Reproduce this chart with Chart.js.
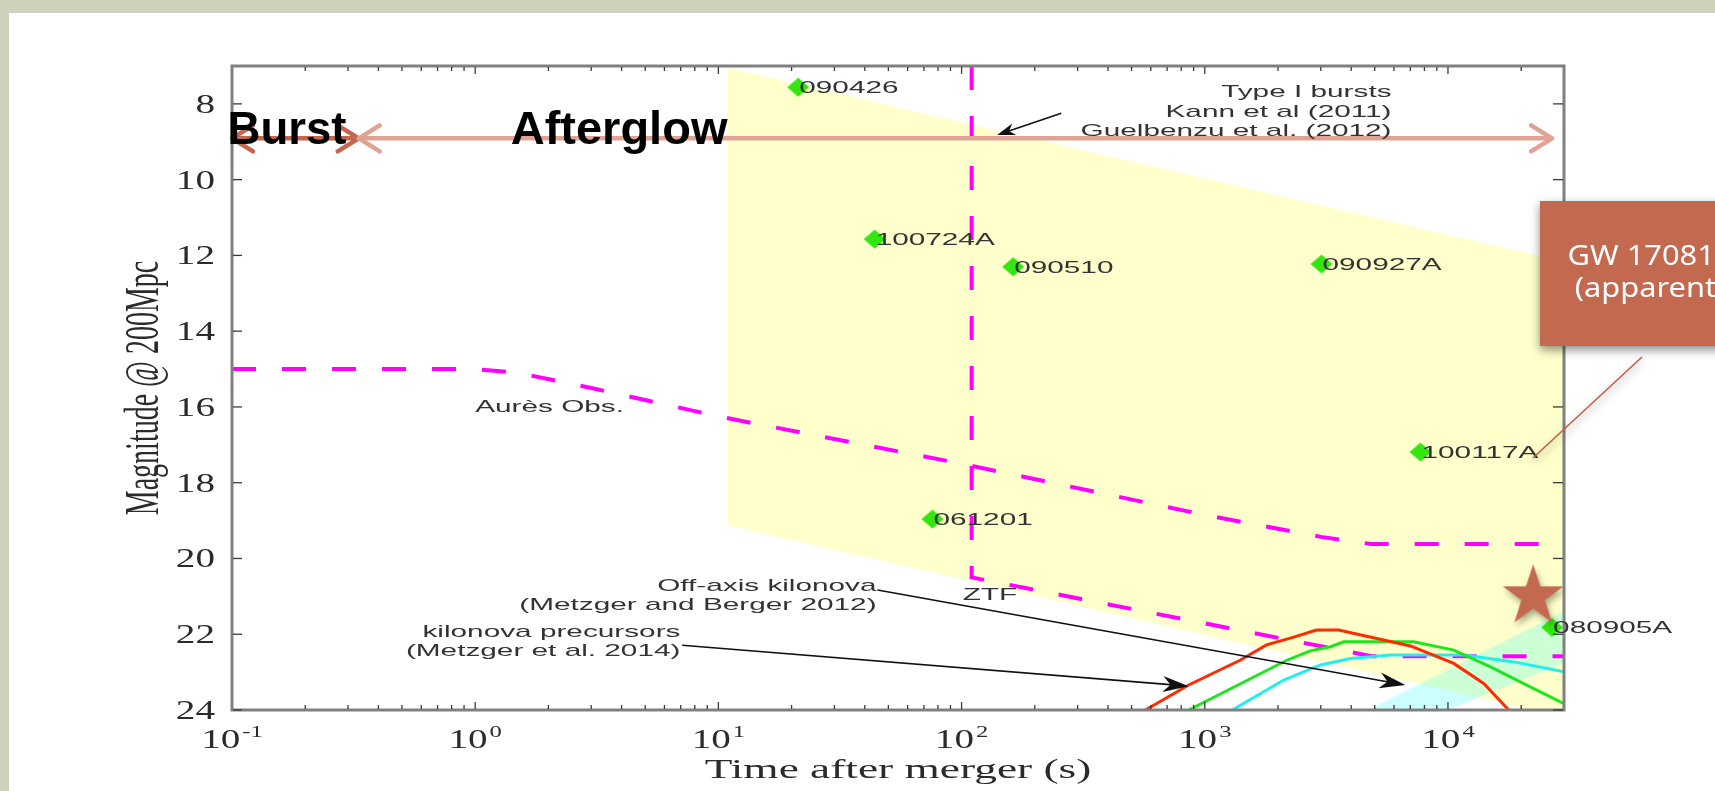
<!DOCTYPE html>
<html>
<head>
<meta charset="utf-8">
<title>Type I bursts and kilonovae at 200 Mpc</title>
<script src="https://cdn.jsdelivr.net/npm/chart.js@4.4.1/dist/chart.umd.min.js"></script>
<style>
  html, body { margin: 0; padding: 0; background: #fff; }
</style>
</head>
<body>
<canvas id="chart" width="1715" height="791"></canvas>
<script>
// short GRB afterglows (Kann et al 2011, Guelbenzu et al 2012)
var grbNames = ['090426', '100724A', '090510', '090927A', '100117A', '061201', '080905A'];
var grbTimes = [21.3, 43.9, 163, 3020, 7710, 75.9, 26800];
var grbMags = [7.56, 11.57, 12.30, 12.23, 17.19, 18.96, 21.82];

// shaded band of type I afterglows
var bandTimes = [10.9, 30000, 30000, 22200, 10.9];
var bandMags = [7.05, 12.17, 24, 24, 19.12];

// light cyan wedge
var wedgeTimes = [4700, 26400, 30000, 30000, 9950];
var wedgeMags = [24, 21.57, 21.4, 22.76, 24];

// survey limits
var auresTimes = [0.1, 1, 1.5, 3, 10, 100, 1000, 3000, 4850, 30000];
var auresMags = [15, 15, 15.1, 15.5, 16.25, 17.5, 18.85, 19.43, 19.62, 19.62];
var ztfTimes = [110, 110, 4840, 30000];
var ztfMags = [7, 20.5, 22.58, 22.58];

// kilonova precursor models
var redTimes = [570, 859, 1403, 1795, 2340, 2880, 3550, 7010, 10560, 14030, 18080];
var redMags = [24.0, 23.34, 22.68, 22.28, 22.07, 21.89, 21.89, 22.31, 22.77, 23.30, 24.05];
var greenTimes = [859, 2183, 2716, 3290, 3730, 7230, 10560, 14960, 21800, 30000];
var greenMags = [24.0, 22.68, 22.44, 22.33, 22.2, 22.2, 22.42, 22.86, 23.39, 23.83];
var cyanTimes = [1297, 2113, 2990, 3970, 5800, 11600, 18660, 30000];
var cyanMags = [24.0, 23.21, 22.81, 22.64, 22.55, 22.55, 22.73, 22.99];

// GW 170817 (apparent)
var gwTime = [22400];
var gwMag = [21.0];

// burst / afterglow phases
var burstRange = [0.1, 0.332];
var afterglowRange = [0.332, 26800];
var phaseMag = [8.91, 8.91];

var yTickValues = [8, 10, 12, 14, 16, 18, 20, 22, 24];
var yTickLabels = ['8', '10', '12', '14', '16', '18', '20', '22', '24'];
var xTickValues = [0.1, 1, 10, 100, 1000, 10000];
var xTickExponents = ['-1', '0', '1', '2', '3', '4'];

var SANS = '"Liberation Sans", Arial, sans-serif';
var SERIF = '"Liberation Serif", "Times New Roman", serif';
var burstColor = '#c4654f';
var glowColor = '#dfa393';
var magenta = '#ff00ff';

function pts(xs, ys) {
    return xs.map(function (x, i) { return { x: x, y: ys[i] }; });
}

function makeStar() {
    var c = document.createElement('canvas');
    c.width = 84; c.height = 84;
    var g = c.getContext('2d');
    g.shadowColor = 'rgba(0,0,0,0.35)';
    g.shadowBlur = 6;
    g.shadowOffsetX = 2;
    g.shadowOffsetY = 4;
    g.fillStyle = '#c3694f';
    g.beginPath();
    for (var i = 0; i < 10; i++) {
        var r = i % 2 ? 12.3 : 32;
        var ang = -Math.PI / 2 + i * Math.PI / 5;
        var x = 42 + r * Math.cos(ang), y = 42 + r * Math.sin(ang);
        if (i) g.lineTo(x, y); else g.moveTo(x, y);
    }
    g.closePath();
    g.fill();
    return c;
}

function makeDiamond() {
    var c = document.createElement('canvas');
    c.width = 24; c.height = 22;
    var g = c.getContext('2d');
    g.fillStyle = '#33e60f';
    g.beginPath();
    g.moveTo(12, 1.5); g.lineTo(23, 11); g.lineTo(12, 20.5); g.lineTo(1, 11);
    g.closePath();
    g.fill();
    return c;
}

// text drawn wider than the font, like the stretched figure
function wideText(ctx, str, x, y, sx, align) {
    ctx.save();
    ctx.translate(x, y);
    ctx.scale(sx, 1);
    ctx.textAlign = align || 'left';
    ctx.textBaseline = 'alphabetic';
    ctx.fillText(str, 0, 0);
    ctx.restore();
}

function openHead(ctx, x, y, dir, color) {
    ctx.save();
    ctx.strokeStyle = color;
    ctx.lineWidth = 4.5;
    ctx.lineCap = 'round';
    ctx.lineJoin = 'round';
    ctx.beginPath();
    ctx.moveTo(x - dir * 21, y - 13);
    ctx.lineTo(x, y);
    ctx.lineTo(x - dir * 21, y + 13);
    ctx.stroke();
    ctx.restore();
}

function solidArrow(ctx, x0, y0, x1, y1, len, half) {
    var a = Math.atan2(y1 - y0, x1 - x0);
    ctx.save();
    ctx.strokeStyle = '#111';
    ctx.fillStyle = '#111';
    ctx.lineWidth = 1.6;
    ctx.beginPath();
    ctx.moveTo(x0, y0);
    ctx.lineTo(x1 - Math.cos(a) * len * 0.6, y1 - Math.sin(a) * len * 0.6);
    ctx.stroke();
    ctx.translate(x1, y1);
    ctx.rotate(a);
    ctx.beginPath();
    ctx.moveTo(0, 0);
    ctx.lineTo(-len, -half);
    ctx.lineTo(-len * 0.7, 0);
    ctx.lineTo(-len, half);
    ctx.closePath();
    ctx.fill();
    ctx.restore();
}

var framePlugin = {
    id: 'frame',
    beforeDraw: function (chart) {
        var ctx = chart.ctx;
        ctx.save();
        ctx.fillStyle = '#cdd2bc';
        ctx.fillRect(0, 0, chart.width, chart.height);
        ctx.fillStyle = '#ffffff';
        ctx.fillRect(9, 13, chart.width, chart.height);
        ctx.restore();
    }
};

var decorPlugin = {
    id: 'decor',
    afterDatasetsDraw: function (chart) {
        var ctx = chart.ctx, a = chart.chartArea;
        var xs = chart.scales.x, ys = chart.scales.y;
        function px(v) { return xs.getPixelForValue(v); }
        function py(v) { return ys.getPixelForValue(v); }
        function seg(x0, y0, x1, y1) {
            ctx.beginPath(); ctx.moveTo(x0, y0); ctx.lineTo(x1, y1); ctx.stroke();
        }

        // burst / afterglow arrow heads
        var b = chart.getDatasetMeta(1).data;
        openHead(ctx, b[0].x, b[0].y, -1, burstColor);
        openHead(ctx, b[1].x, b[1].y, 1, burstColor);
        var g = chart.getDatasetMeta(2).data;
        openHead(ctx, g[0].x, g[0].y, -1, glowColor);
        openHead(ctx, g[1].x, g[1].y, 1, glowColor);

        // plot box and inward ticks
        ctx.save();
        ctx.strokeStyle = '#808080';
        ctx.lineWidth = 3;
        ctx.strokeRect(a.left, a.top, a.right - a.left, a.bottom - a.top);
        ctx.strokeStyle = '#3a3a3a';
        ctx.lineWidth = 1.3;
        for (var k = -1; k <= 4; k++) {
            for (var m = 1; m <= 9; m++) {
                var v = m * Math.pow(10, k);
                if (v <= xs.min * 1.0001 || v >= xs.max * 0.9999) continue;
                var x = px(v);
                var len = m === 1 ? 7 : 4;
                seg(x, a.bottom - 1, x, a.bottom - 1 - len);
                seg(x, a.top + 1, x, a.top + 1 + len);
            }
        }
        yTickValues.forEach(function (v) {
            var y = py(v);
            seg(a.left + 1, y, a.left + 10, y);
            seg(a.right - 1, y, a.right - 11, y);
        });
        ctx.restore();

        // tick labels
        ctx.save();
        ctx.fillStyle = '#2b2b2b';
        ctx.font = '27px ' + SERIF;
        yTickValues.forEach(function (v, i) {
            wideText(ctx, yTickLabels[i], a.left - 17, py(v) + 9, 1.45, 'right');
        });
        xTickValues.forEach(function (v, i) {
            ctx.font = '27px ' + SERIF;
            var wb = ctx.measureText('10').width * 1.45;
            ctx.font = '17px ' + SERIF;
            var we = ctx.measureText(xTickExponents[i]).width * 1.45;
            var x0 = px(v) - (wb + we + 2) / 2;
            ctx.font = '27px ' + SERIF;
            wideText(ctx, '10', x0, 748, 1.45, 'left');
            ctx.font = '17px ' + SERIF;
            wideText(ctx, xTickExponents[i], x0 + wb + 2, 737, 1.45, 'left');
        });

        // axis titles
        ctx.font = '28px ' + SERIF;
        wideText(ctx, 'Time after merger (s)', (a.left + a.right) / 2, 778, 1.62, 'center');
        ctx.translate(158, (a.top + a.bottom) / 2);
        ctx.rotate(-Math.PI / 2);
        ctx.scale(1, 1.7);
        ctx.textAlign = 'center';
        ctx.fillText('Magnitude @ 200Mpc', 0, 0);
        ctx.restore();

        // annotation arrows
        solidArrow(ctx, px(257), py(8.25), px(140), py(8.82), 18, 6);
        solidArrow(ctx, px(45.1), py(20.83), px(6680), py(23.34), 26, 8);
        solidArrow(ctx, px(7.1), py(22.29), px(859), py(23.37), 26, 8);

        // annotation text
        var notes = [
            { lines: ['Type I bursts', 'Kann et al (2011)', 'Guelbenzu et al. (2012)'], t: 5860, m: 7.83, align: 'right' },
            { lines: ['Aurès Obs.'], t: 1.0, m: 16.13, align: 'left' },
            { lines: ['ZTF'], t: 101, m: 21.1, align: 'left' },
            { lines: ['Off-axis kilonova', '(Metzger and Berger 2012)'], t: 44.7, m: 20.86, align: 'right' },
            { lines: ['kilonova precursors', '(Metzger et al. 2014)'], t: 6.98, m: 22.08, align: 'right' }
        ];
        ctx.save();
        ctx.fillStyle = '#333';
        ctx.font = '17px ' + SANS;
        notes.forEach(function (n) {
            n.lines.forEach(function (s, i) {
                wideText(ctx, s, px(n.t), py(n.m) + i * 19.2, 1.75, n.align);
            });
        });
        var marks = chart.getDatasetMeta(3).data;
        grbNames.forEach(function (name, i) {
            wideText(ctx, name, marks[i].x + 1, marks[i].y + 6, 1.75, 'left');
        });

        // phase labels
        ctx.fillStyle = '#000';
        ctx.font = 'bold 47px ' + SANS;
        wideText(ctx, 'Burst', px(0.0958), py(9.07), 0.97, 'left');
        wideText(ctx, 'Afterglow', px(1.40), py(9.07), 1.0, 'left');
        ctx.restore();
    },
    afterDraw: function (chart) {
        var ctx = chart.ctx;
        ctx.save();
        // callout for GW 170817
        ctx.shadowColor = 'rgba(0,0,0,0.45)';
        ctx.shadowBlur = 9;
        ctx.shadowOffsetY = 4;
        ctx.strokeStyle = '#c0604a';
        ctx.lineWidth = 1.6;
        ctx.beginPath();
        ctx.moveTo(1642, 357);
        ctx.lineTo(1533, 458);
        ctx.stroke();
        ctx.fillStyle = '#c3694f';
        ctx.fillRect(1540, 201, 220, 145);
        ctx.shadowColor = 'rgba(0,0,0,0)';
        ctx.fillStyle = '#ffffff';
        ctx.font = '28px "Noto Sans", "Open Sans", sans-serif';
        wideText(ctx, 'GW 170817', 1650, 265, 1.1, 'center');
        wideText(ctx, '(apparent)', 1650, 297, 1.1, 'center');
        ctx.restore();
    }
};

var starImg = makeStar();
var diamondImg = makeDiamond();

var chart = new Chart(document.getElementById('chart'), {
    type: 'line',
    data: {
        datasets: [
            { label: 'GW 170817', data: pts(gwTime, gwMag), showLine: false, pointStyle: starImg, pointRadius: 32, clip: false, order: 0 },
            { label: 'Burst', data: pts(burstRange, phaseMag), borderColor: burstColor, borderWidth: 4.5, pointRadius: 0, order: 1 },
            { label: 'Afterglow', data: pts(afterglowRange, phaseMag), borderColor: glowColor, borderWidth: 4.5, pointRadius: 0, order: 1 },
            { label: 'Type I bursts', data: pts(grbTimes, grbMags), showLine: false, pointStyle: diamondImg, pointRadius: 11, clip: false, order: 2 },
            { label: 'kilonova red', data: pts(redTimes, redMags), borderColor: '#ff2a00', borderWidth: 3, pointRadius: 0, order: 3 },
            { label: 'kilonova green', data: pts(greenTimes, greenMags), borderColor: '#1ee61e', borderWidth: 3, pointRadius: 0, order: 3 },
            { label: 'kilonova cyan', data: pts(cyanTimes, cyanMags), borderColor: '#22eeee', borderWidth: 3, pointRadius: 0, order: 3 },
            { label: 'Aurès Obs.', data: pts(auresTimes, auresMags), borderColor: magenta, borderWidth: 4, borderDash: [24, 26], pointRadius: 0, order: 4 },
            { label: 'ZTF', data: pts(ztfTimes, ztfMags), borderColor: magenta, borderWidth: 4, borderDash: [24, 26], pointRadius: 0, order: 4 },
            { label: 'wedge', data: pts(wedgeTimes, wedgeMags), fill: 'shape', backgroundColor: 'rgba(0,255,255,0.2)', borderColor: 'rgba(0,0,0,0)', borderWidth: 0, pointRadius: 0, order: 5 },
            { label: 'band', data: pts(bandTimes, bandMags), fill: 'shape', backgroundColor: '#ffffcc', borderColor: 'rgba(0,0,0,0)', borderWidth: 0, pointRadius: 0, order: 6 }
        ]
    },
    options: {
        responsive: false,
        animation: false,
        devicePixelRatio: 1,
        events: [],
        layout: { padding: { left: 0, top: 66, right: 151, bottom: 0 } },
        plugins: { legend: { display: false }, tooltip: { enabled: false } },
        scales: {
            x: {
                type: 'logarithmic', min: 0.1, max: 30000, position: 'bottom',
                grid: { display: false }, border: { display: false }, ticks: { display: false },
                afterFit: function (s) { s.height = 81; }
            },
            y: {
                type: 'linear', reverse: true, min: 7, max: 24,
                grid: { display: false }, border: { display: false }, ticks: { display: false },
                afterFit: function (s) { s.width = 232; }
            }
        }
    },
    plugins: [framePlugin, decorPlugin]
});
</script>
</body>
</html>
